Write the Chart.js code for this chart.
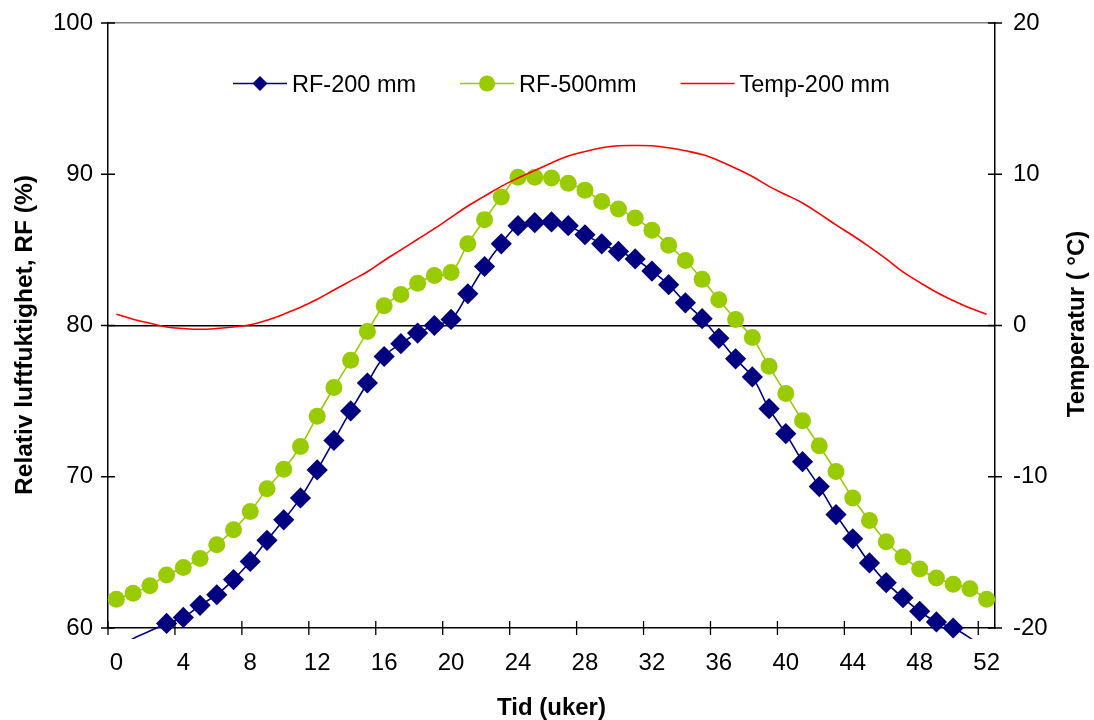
<!DOCTYPE html>
<html><head><meta charset="utf-8">
<script src="https://cdn.jsdelivr.net/npm/chart.js@4.4.1/dist/chart.umd.min.js"></script>
<style>html,body{margin:0;padding:0;background:#fff;}#wrap{width:1094px;height:720px;position:relative;}</style>
</head><body><div id="wrap"><canvas id="c" width="1094" height="720"></canvas></div>
<script>
const weekLabels = ['0','1','2','3','4','5','6','7','8','9','10','11','12','13','14','15','16','17','18','19','20','21','22','23','24','25','26','27','28','29','30','31','32','33','34','35','36','37','38','39','40','41','42','43','44','45','46','47','48','49','50','51','52'];
const xTickWeeks = [0,4,8,12,16,20,24,28,32,36,40,44,48,52];
const rfTicks = [60,70,80,90,100];
const tempTicks = [-20,-10,0,10,20];
const seriesNames = ['RF-200 mm','RF-500mm','Temp-200 mm'];
const xTitle = 'Tid (uker)';
const yTitle = 'Relativ luftfuktighet, RF (%)';
const y2Title = 'Temperatur ( °C)';

const rf200 = [58.6,59.3,59.8,60.3,60.7,61.5,62.2,63.2,64.4,65.8,67.15,68.6,70.45,72.4,74.35,76.2,77.95,78.8,79.5,80.0,80.4,82.1,83.9,85.4,86.6,86.8,86.85,86.6,86.0,85.4,84.9,84.4,83.6,82.7,81.5,80.45,79.15,77.8,76.6,74.5,72.85,71.0,69.35,67.5,65.9,64.3,63.0,62.0,61.1,60.4,60.0,59.35,58.5];
const rf500 = [61.9,62.3,62.8,63.5,64.0,64.6,65.5,66.5,67.7,69.2,70.5,72.0,74.0,75.9,77.7,79.6,81.3,82.05,82.8,83.3,83.5,85.4,87.0,88.5,89.8,89.8,89.75,89.4,88.95,88.2,87.7,87.1,86.3,85.3,84.3,83.05,81.7,80.4,79.2,77.3,75.5,73.7,72.05,70.35,68.6,67.1,65.7,64.7,63.9,63.3,62.9,62.6,61.9];
const temp200 = [0.75,0.42,0.15,-0.1,-0.2,-0.25,-0.2,-0.1,0.05,0.35,0.75,1.2,1.73,2.35,2.95,3.55,4.3,5.0,5.7,6.4,7.15,7.9,8.55,9.2,9.75,10.25,10.75,11.2,11.5,11.75,11.88,11.9,11.88,11.75,11.55,11.3,10.9,10.4,9.85,9.2,8.65,8.1,7.4,6.65,5.95,5.2,4.4,3.55,2.85,2.2,1.65,1.15,0.75];

const FONT = '"Liberation Sans", Arial, sans-serif';
const NAVY = '#000080', GREEN = '#99CC00', RED = '#FF0000';
const clipBox = {left: 10, top: 10, right: 10, bottom: 11};

const crossTicks = {
  id: 'crossTicks',
  afterDraw(chart) {
    const {ctx, chartArea: a, scales: {x, y, y2}} = chart;
    ctx.save();
    ctx.strokeStyle = '#000'; ctx.lineWidth = 1.3;
    ctx.beginPath();
    y.ticks.forEach(t => { const py = y.getPixelForValue(t.value); ctx.moveTo(a.left - 7, py); ctx.lineTo(a.left + 7, py); });
    y2.ticks.forEach(t => { const py = y2.getPixelForValue(t.value); ctx.moveTo(a.right - 7, py); ctx.lineTo(a.right + 7, py); });
    const half = (x.getPixelForValue(1) - x.getPixelForValue(0)) / 2;
    xTickWeeks.forEach(w => { const px = x.getPixelForValue(weekLabels.indexOf(String(w))) - half; ctx.moveTo(px, a.bottom - 7); ctx.lineTo(px, a.bottom + 7); });
    ctx.stroke();
    ctx.restore();
  }
};

function drawMarker(ctx, style, cx, cy, r, color) {
  ctx.fillStyle = color;
  ctx.beginPath();
  if (style === 'rectRot') {
    ctx.moveTo(cx, cy - r); ctx.lineTo(cx + r, cy); ctx.lineTo(cx, cy + r); ctx.lineTo(cx - r, cy); ctx.closePath();
  } else if (style === 'circle') {
    ctx.arc(cx, cy, r, 0, Math.PI * 2);
  }
  if (style !== false) ctx.fill();
}

const legendInside = {
  id: 'legendInside',
  afterDraw(chart) {
    const {ctx, chartArea: a} = chart;
    ctx.save();
    ctx.font = '23.5px ' + FONT;
    ctx.textBaseline = 'alphabetic';
    ctx.textAlign = 'left';
    let xp = a.left + 125;
    const yc = a.top + 60.5;
    chart.data.datasets.slice().sort((p, q) => p.legendIndex - q.legendIndex).forEach(ds => {
      ctx.strokeStyle = ds.borderColor; ctx.lineWidth = ds.borderWidth;
      ctx.beginPath(); ctx.moveTo(xp, yc); ctx.lineTo(xp + 54, yc); ctx.stroke();
      if (ds.pointStyle && ds.legendMarker) drawMarker(ctx, ds.pointStyle, xp + 27, yc, ds.legendMarker, ds.pointBackgroundColor);
      ctx.fillStyle = '#000';
      ctx.fillText(ds.label, xp + 59, yc + 8);
      xp += 59 + ctx.measureText(ds.label).width + 44;
    });
    ctx.restore();
  }
};

const axisTitles = {
  id: 'axisTitles',
  afterDraw(chart) {
    const {ctx, chartArea: a} = chart;
    ctx.save();
    ctx.fillStyle = '#000';
    ctx.textBaseline = 'alphabetic';
    ctx.textAlign = 'center';
    ctx.font = 'bold 24px ' + FONT;
    ctx.fillText(xTitle, (a.left + a.right) / 2, 715);
    ctx.save();
    ctx.translate(31.5, 335);
    ctx.rotate(-Math.PI / 2);
    ctx.font = 'bold 24.5px ' + FONT;
    ctx.fillText(yTitle, 0, 0);
    ctx.restore();
    ctx.save();
    ctx.translate(1083.5, 324);
    ctx.rotate(-Math.PI / 2);
    ctx.font = 'bold 24px ' + FONT;
    ctx.fillText(y2Title, 0, 0);
    ctx.restore();
    ctx.restore();
  }
};

new Chart(document.getElementById('c'), {
  type: 'line',
  data: {
    labels: weekLabels,
    datasets: [
      {label: seriesNames[0], data: rf200, yAxisID: 'y', borderColor: NAVY, backgroundColor: NAVY, borderWidth: 1.6,
       pointStyle: 'rectRot', pointRadius: c => (c.raw < 60 ? 0 : 10.6), pointBackgroundColor: NAVY, pointBorderWidth: 0,
       tension: 0.4, clip: clipBox, order: 2, legendIndex: 0, legendMarker: 7.5},
      {label: seriesNames[1], data: rf500, yAxisID: 'y', borderColor: GREEN, backgroundColor: GREEN, borderWidth: 1.6,
       pointStyle: 'circle', pointRadius: 8.5, pointBackgroundColor: GREEN, pointBorderWidth: 0,
       tension: 0.4, clip: clipBox, order: 1, legendIndex: 1, legendMarker: 8},
      {label: seriesNames[2], data: temp200, yAxisID: 'y2', borderColor: RED, backgroundColor: RED, borderWidth: 1.6,
       pointStyle: false, pointRadius: 0, tension: 0.4, clip: clipBox, order: 0, legendIndex: 2, legendMarker: 0}
    ]
  },
  options: {
    responsive: false,
    animation: false,
    devicePixelRatio: 1,
    layout: {padding: {top: 23, left: 0, right: 0, bottom: 0}},
    plugins: {legend: {display: false}, tooltip: {enabled: false}},
    scales: {
      x: {
        type: 'category', offset: true,
        grid: {display: false, drawTicks: false, offset: true},
        border: {display: true, color: '#000', width: 1.5},
        ticks: {autoSkip: false, maxRotation: 0, minRotation: 0, padding: 21, color: '#000', font: {family: FONT, size: 24},
          callback: function(v, i) { const l = weekLabels[i]; return xTickWeeks.includes(Number(l)) ? l : ''; }},
        afterFit: s => { s.height = 92; s.paddingLeft = 0; s.paddingRight = 0; }
      },
      y: {
        position: 'left', min: 60, max: 100,
        afterBuildTicks: s => { s.ticks = rfTicks.map(v => ({value: v})); },
        grid: {drawTicks: false, lineWidth: 1.5, color: c => (c.tick && c.tick.value === 100 ? '#808080' : 'rgba(0,0,0,0)')},
        border: {display: true, color: '#000', width: 1.5},
        ticks: {padding: 15, color: '#000', font: {family: FONT, size: 24}},
        afterFit: s => { s.width = 108; s.paddingTop = 0; s.paddingBottom = 0; }
      },
      y2: {
        position: 'right', min: -20, max: 20,
        afterBuildTicks: s => { s.ticks = tempTicks.map(v => ({value: v})); },
        grid: {drawTicks: false, drawOnChartArea: true, lineWidth: 1.5, color: c => (c.tick && c.tick.value === 0 ? '#000' : 'rgba(0,0,0,0)')},
        border: {display: true, color: '#000', width: 1.5},
        ticks: {padding: 18, color: '#000', font: {family: FONT, size: 24}},
        afterFit: s => { s.width = 99; s.paddingTop = 0; s.paddingBottom = 0; }
      }
    }
  },
  plugins: [crossTicks, legendInside, axisTitles]
});
</script></body></html>
